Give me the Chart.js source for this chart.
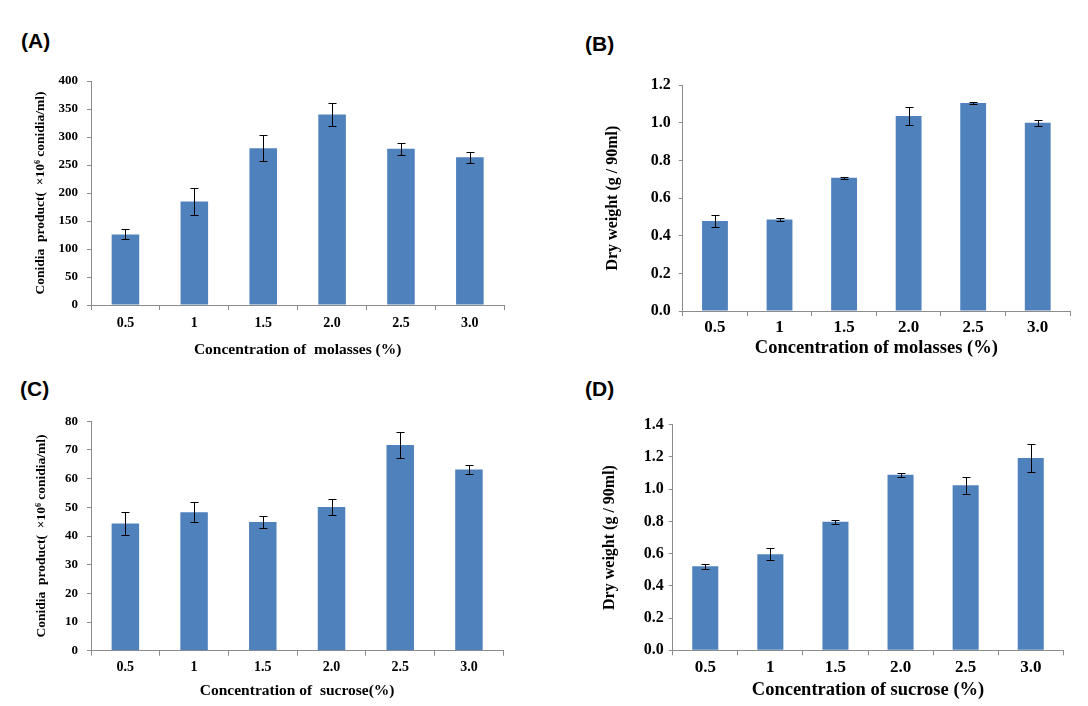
<!DOCTYPE html>
<html>
<head>
<meta charset="utf-8">
<script src="https://cdn.jsdelivr.net/npm/chart.js@4.4.1/dist/chart.umd.min.js"></script>
<style>
  body { margin: 0; width: 1088px; height: 706px; background: #fff; position: relative; overflow: hidden; }
  .panel { position: absolute; }
  .tag { position: absolute; font: bold 21px "Liberation Sans", Arial, sans-serif; line-height: 21px; color: #000; }
</style>
</head>
<body>
<div class="tag" style="left:21px;top:30px">(A)</div>
<div class="tag" style="left:585px;top:33px">(B)</div>
<div class="tag" style="left:20px;top:378px">(C)</div>
<div class="tag" style="left:585px;top:378px">(D)</div>

<div class="panel" style="left:0;top:60px;width:540px;height:310px"><canvas id="chartA"></canvas></div>
<div class="panel" style="left:544px;top:60px;width:544px;height:310px"><canvas id="chartB"></canvas></div>
<div class="panel" style="left:0;top:400px;width:540px;height:306px"><canvas id="chartC"></canvas></div>
<div class="panel" style="left:544px;top:400px;width:544px;height:306px"><canvas id="chartD"></canvas></div>

<script>
const concentrations = ["0.5", "1", "1.5", "2.0", "2.5", "3.0"];

// (A) conidia, molasses
const molassesConidia = [126, 185, 280, 340, 279, 264];
const molassesConidiaErr = [9, 24, 23, 21, 11, 10];

// (B) dry weight, molasses
const molassesDryWeight = [0.478, 0.487, 0.708, 1.037, 1.106, 1.001];
const molassesDryWeightErr = [0.03, 0.01, 0.006, 0.05, 0.004, 0.017];

// (C) conidia, sucrose
const sucroseConidia = [44.4, 48.3, 44.9, 50.1, 71.7, 63.2];
const sucroseConidiaErr = [3.9, 3.4, 2.1, 2.8, 4.6, 1.7];

// (D) dry weight, sucrose
const sucroseDryWeight = [0.521, 0.596, 0.798, 1.09, 1.024, 1.193];
const sucroseDryWeightErr = [0.017, 0.036, 0.012, 0.012, 0.052, 0.085];

const serif = "'Liberation Serif', 'Times New Roman', serif";
const axisGray = "#8c8c8c";

const errorBars = {
  id: "errorBars",
  afterDatasetsDraw(chart) {
    const ctx = chart.ctx;
    const yScale = chart.scales.y;
    chart.data.datasets.forEach((ds, i) => {
      chart.getDatasetMeta(i).data.forEach((bar, j) => {
        const v = ds.data[j];
        const e = ds.errors[j];
        const x = Math.round(bar.x) + 0.5;
        const hi = Math.round(yScale.getPixelForValue(v + e)) + 0.5;
        const lo = Math.round(yScale.getPixelForValue(v - e)) + 0.5;
        ctx.save();
        ctx.strokeStyle = "#000";
        ctx.lineWidth = 1;
        ctx.beginPath();
        ctx.moveTo(x, hi);
        ctx.lineTo(x, lo);
        ctx.moveTo(x - 4, hi);
        ctx.lineTo(x + 4, hi);
        ctx.moveTo(x - 4, lo);
        ctx.lineTo(x + 4, lo);
        ctx.stroke();
        ctx.restore();
      });
    });
  },
};

function buildChart(id, values, errors, o) {
  return new Chart(document.getElementById(id), {
    type: "bar",
    data: {
      labels: concentrations,
      datasets: [
        {
          data: values,
          errors: errors,
          backgroundColor: "#4f81bd",
          borderWidth: 0,
          barPercentage: 0.4,
          categoryPercentage: 1,
        },
      ],
    },
    options: {
      responsive: true,
      maintainAspectRatio: false,
      animation: false,
      layout: { padding: { left: 0, top: o.top, right: o.right, bottom: 0 } },
      plugins: { legend: { display: false }, tooltip: { enabled: false } },
      scales: {
        x: {
          grid: { drawOnChartArea: false, drawTicks: true, tickLength: 5, color: axisGray },
          border: { color: axisGray, width: 1 },
          ticks: {
            color: "#000",
            padding: o.xPad,
            font: { family: serif, size: o.xFont, weight: "bold", lineHeight: 1 },
          },
          title: {
            display: true,
            text: o.xTitle,
            color: "#000",
            padding: { top: 0, bottom: o.xTitlePad },
            font: { family: serif, size: o.xTitleFont, weight: "bold", lineHeight: 1 },
          },
          afterFit(scale) {
            scale.height = o.xHeight;
          },
        },
        y: {
          min: 0,
          max: o.max,
          grid: { drawOnChartArea: false, drawTicks: true, tickLength: 4, color: axisGray },
          border: { color: axisGray, width: 1 },
          ticks: {
            stepSize: o.step,
            color: "#000",
            padding: o.yPad,
            font: { family: serif, size: o.yFont, weight: "bold", lineHeight: 1 },
            callback: (v) => (o.decimals ? Number(v).toFixed(o.decimals) : v),
          },
          title: {
            display: true,
            text: o.yTitle,
            color: "#000",
            padding: { top: o.yTitlePad, bottom: 0 },
            font: { family: serif, size: o.yTitleFont, weight: "bold", lineHeight: 1 },
          },
          afterFit(scale) {
            scale.width = o.yWidth;
          },
        },
      },
    },
    plugins: [errorBars],
  });
}

const chartA = buildChart("chartA", molassesConidia, molassesConidiaErr, {
  top: 21, right: 35.7, yWidth: 91, xHeight: 65,
  max: 400, step: 50, decimals: 0,
  xFont: 14, xPad: 6, yFont: 13, yPad: 9,
  xTitle: "Concentration of  molasses (%)", xTitleFont: 15.5, xTitlePad: 12,
  yTitle: "Conidia  product(  \u00d710\u2076 conidia/ml)", yTitleFont: 13.5, yTitlePad: 34,
});

const chartB = buildChart("chartB", molassesDryWeight, molassesDryWeightErr, {
  top: 25.3, right: 18, yWidth: 138.7, xHeight: 59,
  max: 1.2, step: 0.2, decimals: 1,
  xFont: 17, xPad: 3, yFont: 16, yPad: 8,
  xTitle: "Concentration of molasses (%)", xTitleFont: 18.5, xTitlePad: 12.5,
  yTitle: "Dry weight (g / 90ml)", yTitleFont: 16, yTitlePad: 61,
});

const chartC = buildChart("chartC", sucroseConidia, sucroseConidiaErr, {
  top: 21.3, right: 36.7, yWidth: 91, xHeight: 55.3,
  max: 80, step: 10, decimals: 0,
  xFont: 14, xPad: 5, yFont: 13, yPad: 9,
  xTitle: "Concentration of  sucrose(%)", xTitleFont: 15.5, xTitlePad: 7.5,
  yTitle: "Conidia  product(  \u00d710\u2076 conidia/ml)", yTitleFont: 13.5, yTitlePad: 35,
});

const chartD = buildChart("chartD", sucroseDryWeight, sucroseDryWeightErr, {
  top: 24.7, right: 24.7, yWidth: 128.7, xHeight: 55.7,
  max: 1.4, step: 0.2, decimals: 1,
  xFont: 17, xPad: 4, yFont: 16, yPad: 5,
  xTitle: "Concentration of sucrose (%)", xTitleFont: 18.5, xTitlePad: 6.5,
  yTitle: "Dry weight (g / 90ml)", yTitleFont: 16, yTitlePad: 58,
});
</script>
</body>
</html>
